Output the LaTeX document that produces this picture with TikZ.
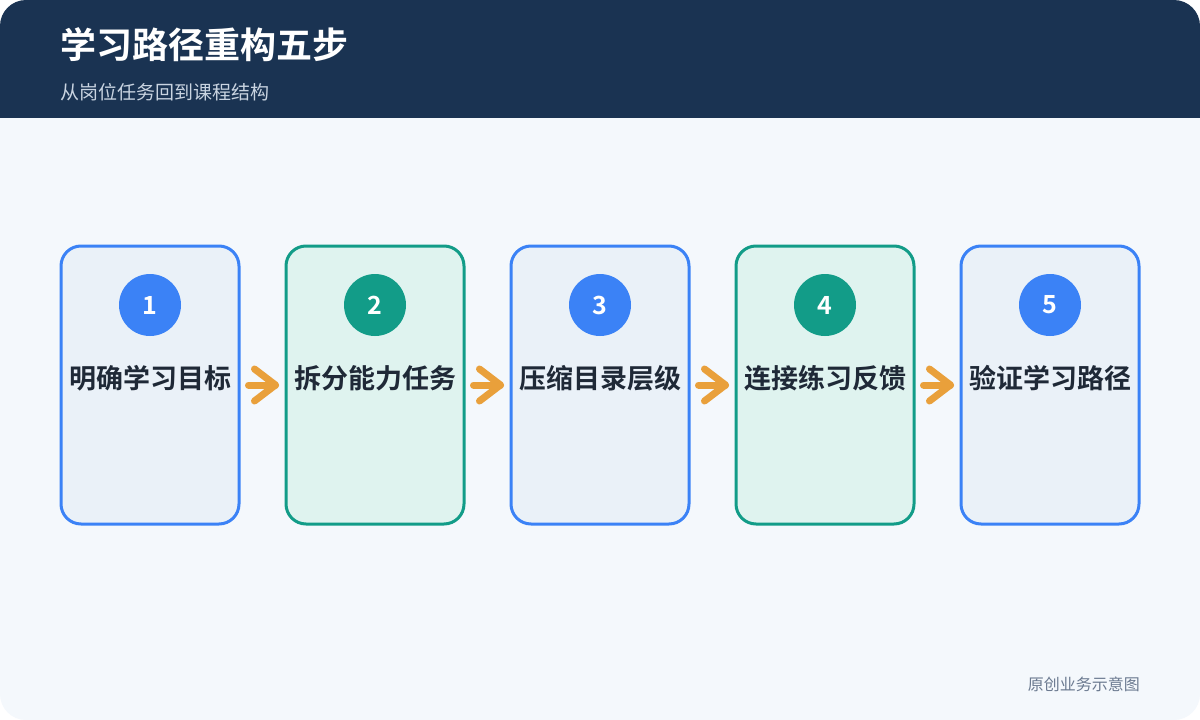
\documentclass[tikz,border=0pt]{standalone}
\usepackage{fontspec}
\usetikzlibrary{calc}
\setmainfont{Noto Sans CJK SC}
\newfontfamily\cjk{Noto Sans CJK SC}
\newfontfamily\cjkb{Noto Sans CJK SC Bold}
\definecolor{navy}{HTML}{1A3352}
\definecolor{pagebg}{HTML}{F4F8FC}
\definecolor{subc}{HTML}{C9D4E1}
\definecolor{bluec}{HTML}{3B82F6}
\definecolor{bluefill}{HTML}{EAF1F8}
\definecolor{tealc}{HTML}{129C88}
\definecolor{tealfill}{HTML}{DFF3EF}
\definecolor{labelc}{HTML}{1F2937}
\definecolor{arrowc}{HTML}{E9A03B}
\definecolor{footc}{HTML}{6B7A90}
\tikzset{
  stepbox/.style={draw=#1, line width=3pt, rounded corners=20pt, minimum width=178pt, minimum height=278pt, inner sep=0pt},
  numcirc/.style={circle, fill=#1, minimum size=62pt, inner sep=0pt, text=white, font=\cjkb\fontsize{25}{25}\selectfont},
  steplabel/.style={text=labelc, font=\cjkb\fontsize{27}{28}\selectfont, inner sep=0pt},
  flowarrow/.style={draw=arrowc, line width=7pt, line cap=round, line join=round}
}
\begin{document}
\begin{tikzpicture}[x=1pt,y=-1pt]
\useasboundingbox (0,0) rectangle (1200,720);
\fill[white] (0,0) rectangle (1200,720);
\begin{scope}
\clip[rounded corners=26pt] (0,0) rectangle (1200,720);
\fill[pagebg] (0,0) rectangle (1200,720);
\fill[navy] (0,0) rectangle (1200,118);
\end{scope}
\node[anchor=base west, text=white, font=\cjkb\fontsize{36}{36}\selectfont, inner sep=0pt] (title) at (60,58) {学习路径重构五步};
\node[anchor=base west, text=subc, font=\cjk\fontsize{19}{19}\selectfont, inner sep=0pt] (sub) at (60,99) {从岗位任务回到课程结构};
\node[anchor=base east, text=footc, font=\cjk\fontsize{16}{16}\selectfont, inner sep=0pt] (foot) at (1140,690) {原创业务示意图};

\foreach \i/\x/\c/\f/\t in {1/150/bluec/bluefill/明确学习目标, 2/375/tealc/tealfill/拆分能力任务, 3/600/bluec/bluefill/压缩目录层级, 4/825/tealc/tealfill/连接练习反馈, 5/1050/bluec/bluefill/验证学习路径}{
  \node[stepbox=\c, fill=\f] (box\i) at (\x,385) {};
  \node[numcirc=\c] (num\i) at (\x,305) {\i};
  \node[steplabel] (lab\i) at (\x,378) {\t};
}
\foreach \a/\b in {1/2,2/3,3/4,4/5}{
  \coordinate (s\a) at ($(box\a.east)+(8,0)$);
  \coordinate (e\a) at ($(box\b.west)+(-9,0)$);
  \draw[flowarrow] (s\a) -- (e\a);
  \draw[flowarrow] ($(e\a)+(-21,-16)$) -- (e\a) -- ($(e\a)+(-21,16)$);
}
\end{tikzpicture}
\end{document}
